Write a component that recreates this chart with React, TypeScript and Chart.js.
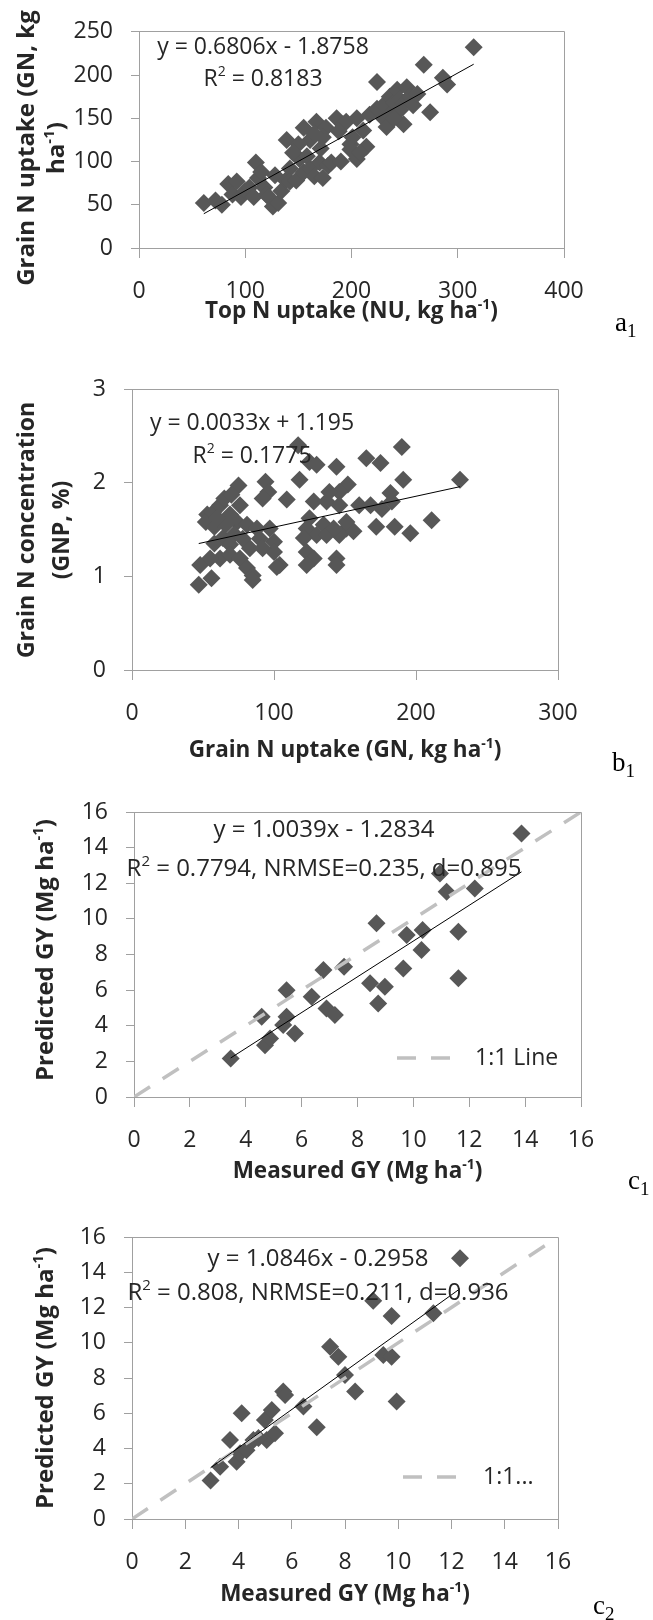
import React, { useEffect, useRef } from 'react';
import { Chart, registerables } from 'chart.js';

Chart.register(...registerables);

const SANS = '"Open Sans", "Noto Sans", "DejaVu Sans", sans-serif';
const SERIF = '"Liberation Serif", "DejaVu Serif", serif';
const INK = '#262626';
const AXIS = '#a0a0a0';
const MARK = '#575757';
const DASH = '#c0c0c0';
const PAGE_W = 653;

// ---------- a1: Top N uptake vs Grain N uptake ----------
const a1TopN = [
  61, 72, 78, 84, 88, 92, 96, 100, 104, 108, 110, 112, 115, 118, 120, 122, 126, 131, 134, 128, 138,
  142, 142, 148, 151, 155, 158, 161, 165, 170, 173, 178, 181, 139, 155, 161, 167, 171, 176, 173, 165, 150, 145,
  186, 192, 195, 199, 201, 205, 205, 199, 211, 214, 217, 208, 190, 188,
  224, 224, 230, 230, 236, 236, 240, 243, 245, 249, 249, 252, 255, 258, 262, 268, 274, 286, 290, 315, 233, 246, 240,
];
const a1GrainN = [
  52, 55, 50, 74, 62, 77, 59, 66, 70, 59, 99, 81, 88, 70, 62, 59, 48, 52, 66, 84, 78,
  92, 77, 78, 103, 88, 106, 92, 83, 99, 81, 95, 99, 125, 139, 125, 146, 115, 139, 128, 132, 120, 110,
  150, 143, 146, 120, 128, 150, 103, 114, 136, 117, 154, 110, 100, 135,
  161, 192, 165, 150, 175, 154, 168, 183, 172, 168, 143, 186, 175, 165, 178, 212, 157, 197, 189, 232, 140, 160, 150,
];
const a1Slope = 0.6806;
const a1Intercept = -1.8758;
const a1XTicks = [0, 400, 100];
const a1YTicks = [0, 250, 50];

// ---------- b1: Grain N uptake vs Grain N concentration ----------
const b1GrainN = [
  47, 56, 48, 53, 52, 58, 57, 62, 65, 75, 70, 76, 69, 74, 81, 88, 64, 69, 62, 69, 76, 81, 85, 58, 55, 72, 78, 83, 66, 60,
  97, 100, 100, 104, 109, 118, 117, 125, 130, 144, 152, 146, 139, 128, 137, 146, 125, 123, 130, 135, 121, 123, 128, 123, 144,
  144, 137, 146, 151, 156, 142, 151, 94, 96, 92, 102, 85, 90, 92,
  160, 168, 165, 175, 190, 191, 182, 183, 172, 185, 196, 211, 231, 176,
];
const b1GNP = [
  0.91, 0.98, 1.12, 1.66, 1.58, 1.53, 1.68, 1.76, 1.83, 1.97, 1.87, 1.76, 1.66, 1.58, 1.55, 1.51, 1.41, 1.34, 1.19, 1.23,
  1.19, 1.09, 1.01, 1.35, 1.19, 1.45, 1.4, 1.3, 1.55, 1.62,
  1.51, 1.37, 1.26, 1.12, 1.82, 2.03, 2.4, 2.22, 2.19, 2.17, 1.98, 1.9, 1.9, 1.8, 1.8, 1.76, 1.62, 1.51, 1.44, 1.55, 1.41,
  1.26, 1.19, 1.12, 1.19, 1.12, 1.44, 1.44, 1.51, 1.48, 1.51, 1.58, 2.01, 1.9, 1.83, 1.1, 0.96, 1.4, 1.3,
  1.76, 1.76, 2.26, 2.21, 2.38, 2.03, 1.89, 1.8, 1.53, 1.53, 1.46, 1.6, 2.03, 1.72,
];
const b1Slope = 0.0033;
const b1Intercept = 1.195;
const b1XTicks = [0, 300, 100];
const b1YTicks = [0, 3, 1];

// ---------- c1: Measured vs Predicted GY ----------
const c1Measured = [
  3.46, 4.57, 4.69, 4.87, 5.46, 5.46, 5.34, 5.76, 6.36, 6.78, 6.89, 7.19, 7.52, 8.45, 8.98, 8.74, 8.68, 9.64, 9.76,
  10.29, 10.33, 10.95, 11.19, 12.2, 11.61, 11.61, 13.87,
];
const c1Predicted = [
  2.16, 4.5, 2.91, 3.29, 6.0, 4.5, 4.04, 3.57, 5.63, 7.13, 4.97, 4.6, 7.31, 6.38, 6.19, 5.25, 9.75, 7.22, 9.09,
  8.25, 9.37, 12.55, 11.52, 11.71, 9.28, 6.66, 14.8,
];
const c1Slope = 1.0039;
const c1Intercept = -1.2834;

// ---------- c2: Measured vs Predicted GY ----------
const c2Measured = [
  2.95, 3.31, 3.68, 3.93, 4.06, 4.12, 4.56, 4.99, 5.06, 5.25, 5.37, 5.68, 5.75, 6.44, 6.94, 7.44, 7.75, 8.0, 8.38,
  9.06, 9.44, 9.75, 9.75, 9.94, 11.32, 12.32, 4.3, 4.75,
];
const c2Predicted = [
  2.18, 2.97, 4.48, 3.25, 3.73, 6.0, 4.48, 5.62, 4.48, 6.19, 4.86, 7.23, 7.04, 6.38, 5.2, 9.78, 9.21, 8.17, 7.23,
  12.39, 9.31, 9.21, 11.52, 6.66, 11.67, 14.79, 3.9, 4.6,
];
const c2Slope = 1.0846;
const c2Intercept = -0.2958;

const gyTicks = [0, 16, 2];
const oneToOneLine = [0, 16];

type Seg = { t: string; sup?: boolean; sub?: boolean };

function drawRich(
  ctx: CanvasRenderingContext2D,
  segs: Seg[],
  x: number,
  y: number,
  o: { size: number; weight?: string; family?: string; align?: 'left' | 'center'; rotate?: boolean; color?: string; subScale?: number }
) {
  const fam = o.family || SANS;
  const w = o.weight || 'normal';
  const big = `${w} ${o.size}px ${fam}`;
  const small = `${w} ${Math.round(o.size * (o.subScale || 0.62))}px ${fam}`;
  ctx.save();
  ctx.translate(x, y);
  if (o.rotate) ctx.rotate(-Math.PI / 2);
  ctx.fillStyle = o.color || INK;
  ctx.textBaseline = 'middle';
  ctx.textAlign = 'left';
  let total = 0;
  const widths = segs.map((s) => {
    ctx.font = s.sup || s.sub ? small : big;
    const m = ctx.measureText(s.t).width;
    total += m;
    return m;
  });
  let cx = o.align === 'center' ? -total / 2 : 0;
  segs.forEach((s, i) => {
    ctx.font = s.sup || s.sub ? small : big;
    const dy = s.sup ? -o.size * 0.3 : s.sub ? o.size * 0.3 : 0;
    ctx.fillText(s.t, cx, dy);
    cx += widths[i];
  });
  ctx.restore();
}

type Panel = {
  key: string;
  height: number;
  area: { left: number; right: number; top: number; bottom: number };
  xs: number[];
  ys: number[];
  xTicks: number[];
  yTicks: number[];
  slope: number;
  intercept: number;
  oneToOne: boolean;
  xTitle: Seg[];
  xTitleOffset: number;
  yTitle: Seg[][];
  yTitleX: number[];
  yTitleY: number;
  yTitleSize: number;
  eq: Seg[][];
  eqX: number;
  eqY: number[];
  eqSize: number;
  legend?: { x1: number; x2: number; y: number; text: string; tx: number };
  label: { main: string; sub: string; x: number; y: number };
};

const haInv = (pre: string): Seg[] => [{ t: pre + 'ha' }, { t: '-1', sup: true }, { t: ')' }];

const panels: Panel[] = [
  {
    key: 'a1',
    height: 340,
    area: { left: 139, right: 564, top: 18, bottom: 248 },
    xs: a1TopN,
    ys: a1GrainN,
    xTicks: a1XTicks,
    yTicks: a1YTicks,
    slope: a1Slope,
    intercept: a1Intercept,
    oneToOne: false,
    xTitle: haInv('Top N uptake (NU, kg '),
    xTitleOffset: 64,
    yTitle: [[{ t: 'Grain N uptake (GN, kg' }], haInv('')],
    yTitleX: [27, 57],
    yTitleY: 148,
    yTitleSize: 24,
    eq: [[{ t: 'y = 0.6806x - 1.8758' }], [{ t: 'R' }, { t: '2', sup: true }, { t: ' = 0.8183' }]],
    eqX: 263,
    eqY: [47, 79],
    eqSize: 23,
    label: { main: 'a', sub: '1', x: 615, y: 324 },
  },
  {
    key: 'b1',
    height: 440,
    area: { left: 132, right: 558, top: 49, bottom: 330 },
    xs: b1GrainN,
    ys: b1GNP,
    xTicks: b1XTicks,
    yTicks: b1YTicks,
    slope: b1Slope,
    intercept: b1Intercept,
    oneToOne: false,
    xTitle: haInv('Grain N uptake (GN, kg '),
    xTitleOffset: 81,
    yTitle: [[{ t: 'Grain N concentration' }], [{ t: '(GNP, %)' }]],
    yTitleX: [27, 62],
    yTitleY: 190,
    yTitleSize: 23,
    eq: [[{ t: 'y = 0.0033x + 1.195' }], [{ t: 'R' }, { t: '2', sup: true }, { t: ' = 0.1775' }]],
    eqX: 252,
    eqY: [83, 116],
    eqSize: 23,
    label: { main: 'b', sub: '1', x: 612, y: 424 },
  },
  {
    key: 'c1',
    height: 420,
    area: { left: 134, right: 581, top: 32, bottom: 317 },
    xs: c1Measured,
    ys: c1Predicted,
    xTicks: gyTicks,
    yTicks: gyTicks,
    slope: c1Slope,
    intercept: c1Intercept,
    oneToOne: true,
    xTitle: haInv('Measured GY (Mg '),
    xTitleOffset: 75,
    yTitle: [haInv('Predicted GY (Mg ')],
    yTitleX: [46],
    yTitleY: 170,
    yTitleSize: 24,
    eq: [
      [{ t: 'y = 1.0039x - 1.2834' }],
      [{ t: 'R' }, { t: '2', sup: true }, { t: ' = 0.7794, NRMSE=0.235, d=0.895' }],
    ],
    eqX: 324,
    eqY: [50, 89],
    eqSize: 24,
    legend: { x1: 397, x2: 453, y: 278, text: '1:1 Line', tx: 475 },
    label: { main: 'c', sub: '1', x: 628, y: 402 },
  },
  {
    key: 'c2',
    height: 420,
    area: { left: 132, right: 558, top: 37, bottom: 319 },
    xs: c2Measured,
    ys: c2Predicted,
    xTicks: gyTicks,
    yTicks: gyTicks,
    slope: c2Slope,
    intercept: c2Intercept,
    oneToOne: true,
    xTitle: haInv('Measured GY (Mg '),
    xTitleOffset: 76,
    yTitle: [haInv('Predicted GY (Mg ')],
    yTitleX: [46],
    yTitleY: 178,
    yTitleSize: 24,
    eq: [
      [{ t: 'y = 1.0846x - 0.2958' }],
      [{ t: 'R' }, { t: '2', sup: true }, { t: ' = 0.808, NRMSE=0.211, d=0.936' }],
    ],
    eqX: 318,
    eqY: [59, 93],
    eqSize: 24,
    legend: { x1: 403, x2: 458, y: 277, text: '1:1...', tx: 483 },
    label: { main: 'c', sub: '2', x: 593, y: 407 },
  },
];

const DASH_PATTERN = [19, 15];
const align = (v: number) => Math.round(v - 0.5) + 0.5;

function decor(spec: Panel) {
  return {
    id: 'decor-' + spec.key,
    afterDraw(chart: any) {
      const ctx: CanvasRenderingContext2D = chart.ctx;
      const a = chart.chartArea;
      ctx.save();
      // plot frame (top and right)
      ctx.strokeStyle = AXIS;
      ctx.lineWidth = 1;
      ctx.beginPath();
      ctx.moveTo(align(a.left), align(a.top));
      ctx.lineTo(align(a.right), align(a.top));
      ctx.lineTo(align(a.right), align(a.bottom));
      ctx.stroke();

      // legend sample
      if (spec.legend) {
        const lg = spec.legend;
        ctx.strokeStyle = DASH;
        ctx.lineWidth = 3.5;
        ctx.setLineDash(DASH_PATTERN);
        ctx.beginPath();
        ctx.moveTo(lg.x1, lg.y);
        ctx.lineTo(lg.x2, lg.y);
        ctx.stroke();
        ctx.setLineDash([]);
        drawRich(ctx, [{ t: lg.text }], lg.tx, lg.y, { size: 23 });
      }
      ctx.restore();

      // equations
      spec.eq.forEach((line, i) => drawRich(ctx, line, spec.eqX, spec.eqY[i], { size: spec.eqSize, align: 'center' }));

      // axis titles
      drawRich(ctx, spec.xTitle, (a.left + a.right) / 2, a.bottom + spec.xTitleOffset, {
        size: 22.5,
        weight: 'bold',
        align: 'center',
      });
      spec.yTitle.forEach((line, i) =>
        drawRich(ctx, line, spec.yTitleX[i], spec.yTitleY, {
          size: spec.yTitleSize,
          weight: 'bold',
          align: 'center',
          rotate: true,
        })
      );

      // panel label
      drawRich(ctx, [{ t: spec.label.main }, { t: spec.label.sub, sub: true }], spec.label.x, spec.label.y, {
        size: 27,
        family: SERIF,
        color: '#000',
        subScale: 0.7,
      });
    },
  };
}

function makeConfig(spec: Panel): any {
  const pts = spec.xs.map((x, i) => ({ x, y: spec.ys[i] }));
  const xLo = Math.min(...spec.xs);
  const xHi = Math.max(...spec.xs);
  const datasets: any[] = [
    {
      label: 'data',
      data: pts,
      showLine: false,
      pointStyle: 'rectRot',
      pointRadius: 9,
      pointBackgroundColor: MARK,
      pointBorderColor: MARK,
      pointBorderWidth: 0,
      order: 3,
    },
  ];
  if (spec.oneToOne) {
    datasets.push({
      label: '1:1 Line',
      data: oneToOneLine.map((v) => ({ x: v, y: v })),
      showLine: true,
      borderColor: DASH,
      borderWidth: 3.5,
      borderDash: DASH_PATTERN,
      pointRadius: 0,
      order: 2,
    });
  }
  datasets.push({
    label: 'trend',
    data: [
      { x: xLo, y: spec.slope * xLo + spec.intercept },
      { x: xHi, y: spec.slope * xHi + spec.intercept },
    ],
    showLine: true,
    borderColor: '#000',
    borderWidth: 1,
    pointRadius: 0,
    order: 1,
  });

  const tickFont = { family: SANS, size: 23 };
  return {
    type: 'scatter',
    data: { datasets },
    options: {
      animation: false,
      responsive: false,
      devicePixelRatio: 1,
      events: [],
      layout: { padding: { top: spec.area.top, right: PAGE_W - spec.area.right, left: 0, bottom: 0 } },
      plugins: { legend: { display: false }, tooltip: { enabled: false } },
      scales: {
        x: {
          type: 'linear',
          position: 'bottom',
          min: spec.xTicks[0],
          max: spec.xTicks[1],
          ticks: { stepSize: spec.xTicks[2], autoSkip: false, maxRotation: 0, padding: 20, color: INK, font: tickFont },
          grid: { drawOnChartArea: false, drawTicks: true, tickLength: 10, color: AXIS },
          border: { display: true, color: AXIS, width: 1 },
          afterFit: (s: any) => {
            s.height = spec.height - spec.area.bottom;
          },
        },
        y: {
          type: 'linear',
          position: 'left',
          min: spec.yTicks[0],
          max: spec.yTicks[1],
          ticks: { stepSize: spec.yTicks[2], autoSkip: false, padding: 18, color: INK, font: tickFont },
          grid: { drawOnChartArea: false, drawTicks: true, tickLength: 8, color: AXIS },
          border: { display: true, color: AXIS, width: 1 },
          afterFit: (s: any) => {
            s.width = spec.area.left;
          },
        },
      },
    },
    plugins: [decor(spec)],
  };
}

function PanelChart({ spec }: { spec: Panel }) {
  const ref = useRef<HTMLCanvasElement>(null);
  useEffect(() => {
    const canvas = ref.current;
    if (!canvas) return;
    const chart = new Chart(canvas, makeConfig(spec));
    return () => chart.destroy();
  }, [spec]);
  return (
    <canvas
      ref={ref}
      width={PAGE_W}
      height={spec.height}
      style={{ display: 'block', width: PAGE_W, height: spec.height }}
    />
  );
}

export default function App() {
  return (
    <div style={{ position: 'absolute', left: 0, top: 0, width: PAGE_W, height: 1620, background: '#fff' }}>
      {panels.map((p) => (
        <PanelChart key={p.key} spec={p} />
      ))}
    </div>
  );
}
